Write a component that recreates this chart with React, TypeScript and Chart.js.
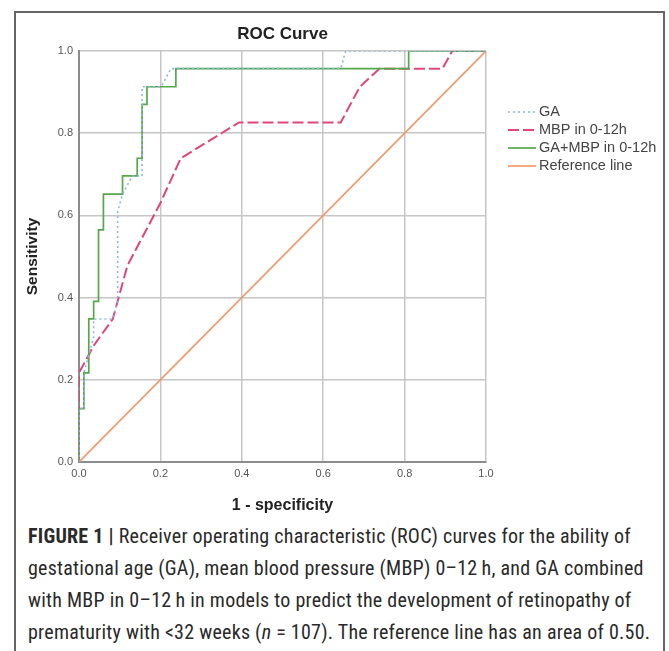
import React, { useEffect, useRef } from "react";
import { Chart, registerables } from "chart.js";

Chart.register(...registerables);

// ---- data ----
const SERIES_LABELS = ["GA", "MBP in 0-12h", "GA+MBP in 0-12h", "Reference line"];

const GA_X = [0, 0, 0.012, 0.012, 0.024, 0.036, 0.036, 0.083, 0.095, 0.095, 0.107, 0.131, 0.155, 0.155, 0.202, 0.226, 0.643, 0.655, 1.0];
const GA_Y = [0, 0.13, 0.13, 0.217, 0.26, 0.304, 0.348, 0.348, 0.391, 0.609, 0.652, 0.696, 0.696, 0.913, 0.913, 0.957, 0.957, 1.0, 1.0];

const MBP_X = [0, 0, 0.036, 0.083, 0.119, 0.2, 0.25, 0.393, 0.643, 0.69, 0.738, 0.893, 0.917, 1.0];
const MBP_Y = [0, 0.217, 0.283, 0.348, 0.478, 0.63, 0.739, 0.826, 0.826, 0.913, 0.957, 0.957, 1.0, 1.0];

const COMBO_X = [0, 0, 0.012, 0.012, 0.024, 0.024, 0.036, 0.036, 0.048, 0.048, 0.06, 0.06, 0.107, 0.107, 0.143, 0.143, 0.155, 0.155, 0.167, 0.167, 0.238, 0.238, 0.81, 0.81, 1.0];
const COMBO_Y = [0, 0.13, 0.13, 0.217, 0.217, 0.348, 0.348, 0.391, 0.391, 0.565, 0.565, 0.652, 0.652, 0.696, 0.696, 0.739, 0.739, 0.87, 0.87, 0.913, 0.913, 0.957, 0.957, 1.0, 1.0];

const REF_X = [0, 1.0];
const REF_Y = [0, 1.0];

const TICK_VALUES = [0, 0.2, 0.4, 0.6, 0.8, 1.0];

const CHART_TITLE = "ROC Curve";
const X_TITLE = "1 - specificity";
const Y_TITLE = "Sensitivity";

const FONT = 'Arial, "Liberation Sans", Helvetica, sans-serif';

const toPoints = (xs: number[], ys: number[]) => xs.map((x, i) => ({ x, y: ys[i] }));

const sideLegend = {
  id: "sideLegend",
  afterDraw(chart: any) {
    const { ctx, chartArea } = chart;
    const x0 = chartArea.right + 22;
    let y = chartArea.top + 61;
    ctx.save();
    chart.data.datasets.forEach((ds: any) => {
      ctx.beginPath();
      ctx.setLineDash(ds.borderDash || []);
      ctx.strokeStyle = ds.borderColor;
      ctx.lineWidth = ds.borderWidth;
      ctx.moveTo(x0, y);
      ctx.lineTo(x0 + 28, y);
      ctx.stroke();
      ctx.setLineDash([]);
      ctx.fillStyle = "#444";
      ctx.font = `14.5px ${FONT}`;
      ctx.textBaseline = "middle";
      ctx.textAlign = "left";
      ctx.fillText(ds.label, x0 + 31, y);
      y += 18;
    });
    ctx.restore();
  },
};

export default function App() {
  const ref = useRef<HTMLCanvasElement | null>(null);

  useEffect(() => {
    if (!ref.current) return;
    const chart = new Chart(ref.current, {
      type: "scatter",
      data: {
        datasets: [
          {
            label: SERIES_LABELS[0],
            data: toPoints(GA_X, GA_Y),
            showLine: true,
            borderColor: "#8fb6e3",
            borderWidth: 1.6,
            borderDash: [2, 3],
            pointRadius: 0,
            tension: 0,
            order: 1,
          },
          {
            label: SERIES_LABELS[1],
            data: toPoints(MBP_X, MBP_Y),
            showLine: true,
            borderColor: "#e2457c",
            borderWidth: 2,
            borderDash: [11, 4],
            pointRadius: 0,
            tension: 0,
            order: 3,
          },
          {
            label: SERIES_LABELS[2],
            data: toPoints(COMBO_X, COMBO_Y),
            showLine: true,
            borderColor: "#55a84a",
            borderWidth: 1.7,
            pointRadius: 0,
            tension: 0,
            order: 2,
          },
          {
            label: SERIES_LABELS[3],
            data: toPoints(REF_X, REF_Y),
            showLine: true,
            borderColor: "#f29a6c",
            borderWidth: 1.7,
            pointRadius: 0,
            tension: 0,
            order: 4,
          },
        ],
      },
      options: {
        responsive: false,
        animation: false,
        devicePixelRatio: 1,
        layout: { padding: { top: 16, left: 14, right: 183, bottom: 0 } },
        plugins: {
          legend: { display: false },
          tooltip: { enabled: false },
          title: {
            display: true,
            text: CHART_TITLE,
            fullSize: false,
            color: "#222",
            font: { size: 17, weight: "bold", family: FONT },
            padding: { top: 7.8, bottom: 6.8 },
          },
        },
        scales: {
          x: {
            type: "linear",
            min: 0,
            max: 1,
            afterBuildTicks: (s: any) => {
              s.ticks = TICK_VALUES.map((v) => ({ value: v }));
            },
            afterFit: (s: any) => {
              s.height = 58;
            },
            ticks: {
              callback: (v: any) => Number(v).toFixed(1),
              color: "#555",
              font: { size: 11, family: FONT },
              padding: 5,
              maxRotation: 0,
              autoSkip: false,
            },
            grid: { color: "#c6c6c6", lineWidth: 1.5, drawTicks: false, tickLength: 0 },
            border: { color: "#8c8c8c", width: 2 },
            title: {
              display: true,
              text: X_TITLE,
              color: "#222",
              font: { size: 16, weight: "bold", family: FONT },
              padding: { top: 0, bottom: 4.4 },
            },
          },
          y: {
            type: "linear",
            min: 0,
            max: 1,
            afterBuildTicks: (s: any) => {
              s.ticks = TICK_VALUES.map((v) => ({ value: v }));
            },
            afterFit: (s: any) => {
              s.width = 65;
            },
            ticks: {
              callback: (v: any) => Number(v).toFixed(1),
              color: "#555",
              font: { size: 11, family: FONT },
              padding: 6,
              autoSkip: false,
            },
            grid: { color: "#c6c6c6", lineWidth: 1.5, drawTicks: false, tickLength: 0 },
            border: { color: "#8c8c8c", width: 2 },
            title: {
              display: true,
              text: Y_TITLE,
              color: "#222",
              font: { size: 15.5, weight: "bold", family: FONT },
              padding: { top: 9.7, bottom: 0 },
            },
          },
        },
      },
      plugins: [sideLegend],
    });
    return () => chart.destroy();
  }, []);

  const captionFont = '"Liberation Sans Narrow", "Arial Narrow", "Roboto Condensed", Arial, sans-serif';
  const lineStyle: React.CSSProperties = { whiteSpace: "nowrap", height: 32, lineHeight: "32px" };

  return (
    <div style={{ position: "fixed", left: 0, top: 0, width: 669, height: 651, overflow: "hidden", background: "#fff" }}>
      <div
        style={{
          position: "absolute",
          left: 14,
          top: 11,
          width: 651,
          height: 700,
          border: "2px solid #666",
          boxSizing: "border-box",
        }}
      />
      <canvas ref={ref} width={669} height={520} style={{ position: "absolute", left: 0, top: 0 }} />
      <div
        style={{
          position: "absolute",
          left: 28,
          top: 520,
          fontFamily: captionFont,
          fontSize: 20,
          letterSpacing: "0.25px",
          color: "#2a2a2a",
        }}
      >
        <div style={lineStyle}>
          <b>FIGURE 1 |</b> Receiver operating characteristic (ROC) curves for the ability of
        </div>
        <div style={lineStyle}>gestational age (GA), mean blood pressure (MBP) 0–12{"\u2009"}h, and GA combined</div>
        <div style={lineStyle}>with MBP in 0–12{"\u2009"}h in models to predict the development of retinopathy of</div>
        <div style={lineStyle}>
          prematurity with &lt;32 weeks (<i>n</i> = 107). The reference line has an area of 0.50.
        </div>
      </div>
    </div>
  );
}
